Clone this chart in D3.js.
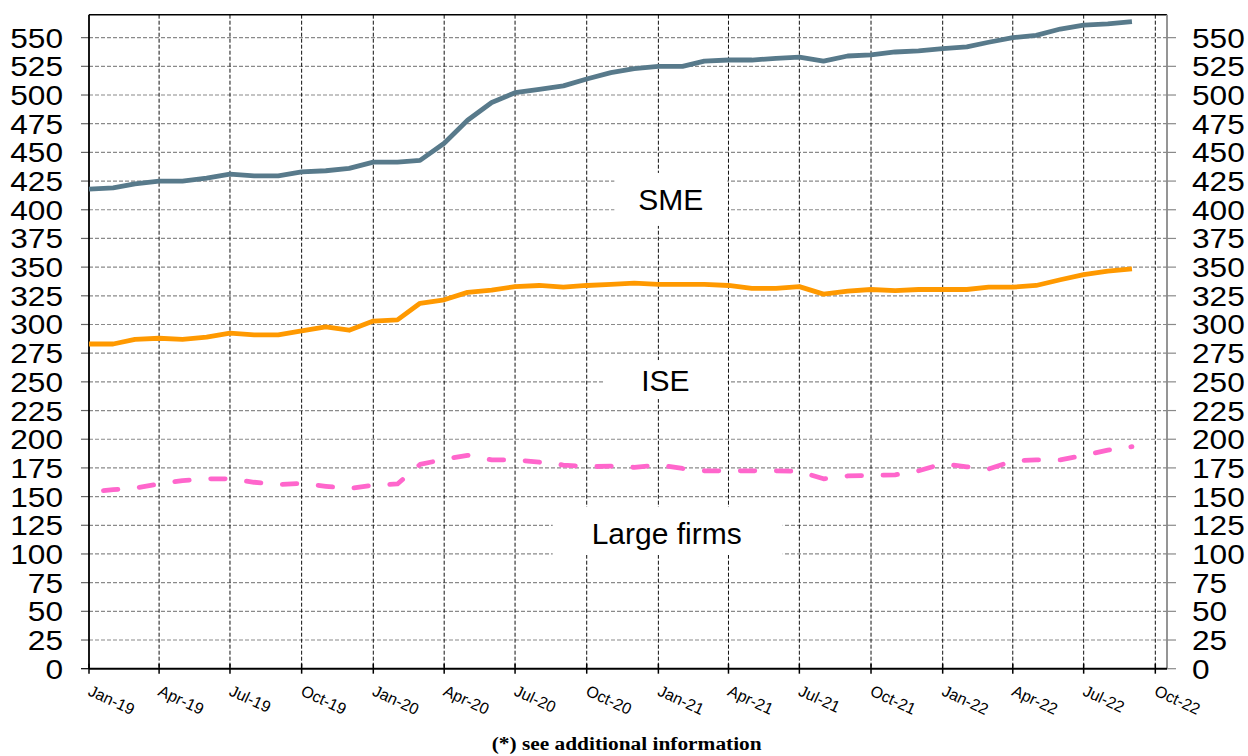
<!DOCTYPE html>
<html><head><meta charset="utf-8">
<script src="https://cdn.jsdelivr.net/npm/d3@7"></script>
<style>body{margin:0;background:#fff} svg{display:block}</style>
</head><body><svg id="c" width="1248" height="756"></svg>
<script>
// ---- data ----
const months = ["2019-01","2019-02","2019-03","2019-04","2019-05","2019-06","2019-07","2019-08","2019-09","2019-10","2019-11","2019-12",
"2020-01","2020-02","2020-03","2020-04","2020-05","2020-06","2020-07","2020-08","2020-09","2020-10","2020-11","2020-12",
"2021-01","2021-02","2021-03","2021-04","2021-05","2021-06","2021-07","2021-08","2021-09","2021-10","2021-11","2021-12",
"2022-01","2022-02","2022-03","2022-04","2022-05","2022-06","2022-07","2022-08","2022-09"];
const sme = [418,419,422.5,425,425,427.5,431,429.5,429.5,433,434,436,
441.5,441.5,443,458,478,493.5,502,505,508,514,519.5,523,
525,525,529.5,530.5,530.5,532,533,529.5,534,535,537.5,538.5,
540.5,542,546,550,552,557.5,561,562,564];
const ise = [283,283,287,288,287,289,292.5,291,291,294.5,298,295,
303,304,318.5,321.5,328,330,333,334,332.5,334,335,336,
335,335,335,334,331.5,331.5,333,326.5,329,330.5,329.5,330.5,
330.5,330.5,332.5,332.5,334,339,343.5,346.5,348.5];
const large = [154,156,157.5,161,164,165.5,165.5,162.5,160.5,161.5,159,157,
160,161,178,182.5,186,182,182,180,177.5,176,176.5,175.5,
177.5,174.5,172.5,172.5,172.5,172.5,172,165.5,168,168.5,169,172.5,
178.5,176,174,181,182,182,186,190.5,193.5];
const xTickDates = ["2019-01","2019-04","2019-07","2019-10","2020-01","2020-04","2020-07","2020-10",
"2021-01","2021-04","2021-07","2021-10","2022-01","2022-04","2022-07","2022-10"];
const xTickLabels = ["Jan-19","Apr-19","Jul-19","Oct-19","Jan-20","Apr-20","Jul-20","Oct-20",
"Jan-21","Apr-21","Jul-21","Oct-21","Jan-22","Apr-22","Jul-22","Oct-22"];
const yTicks = [0,25,50,75,100,125,150,175,200,225,250,275,300,325,350,375,400,425,450,475,500,525,550];
const seriesNames = ["SME","ISE","Large firms"];
const footnote = "(*) see additional information";

// ---- layout ----
const parse = d3.timeParse("%Y-%m");
const svg = d3.select("#c");
const L = 89, R = 1167, T = 14.7, B = 668.7;
const x = d3.scaleTime().domain([new Date(2019,0,1), new Date(2022,9,16)]).range([L, R]);
const y = d3.scaleLinear().domain([0, 570]).range([B, T]);
const font = "'Liberation Sans', Arial, sans-serif";

// horizontal grid (dashed gray) with outward ticks
const g = svg.append("g");
g.selectAll("line.hg").data(yTicks.filter(v => v > 0)).join("line")
  .attr("x1", L).attr("x2", R).attr("y1", d => y(d)).attr("y2", d => y(d))
  .attr("stroke", "#8a8a8a").attr("stroke-width", 1.2).attr("stroke-dasharray", "4,2");
// tick marks left & right
g.selectAll("line.tl").data(yTicks).join("line")
  .attr("x1", L - 8).attr("x2", L).attr("y1", d => y(d)).attr("y2", d => y(d))
  .attr("stroke", d => d === 0 ? "#000" : "#666").attr("stroke-width", 1.2);
g.selectAll("line.tr").data(yTicks).join("line").attr("class","tr")
  .attr("x1", R).attr("x2", R + 9).attr("y1", d => y(d)).attr("y2", d => y(d))
  .attr("stroke", "#8a8a8a").attr("stroke-width", 1.2);

// vertical grid (dashed black)
g.selectAll("line.vg").data(xTickDates.slice(1)).join("line").attr("class","vg")
  .attr("x1", d => x(parse(d))).attr("x2", d => x(parse(d)))
  .attr("y1", T).attr("y2", B)
  .attr("stroke", "#111").attr("stroke-width", 1).attr("stroke-dasharray", "4,2");

// label boxes (white) + texts
const annots = [
  {name: seriesNames[0], date: "2021-01-17", value: 409, w: 113, h: 53, tx: 0, ty: 11},
  {name: seriesNames[1], date: "2021-01-10", value: 252, w: 124, h: 39, tx: 0, ty: 11},
  {name: seriesNames[2], date: "2021-01-13", value: 120, w: 230, h: 48, tx: -1, ty: 13}
];
const ag = svg.append("g");
ag.selectAll("rect").data(annots).join("rect")
  .attr("x", d => x(new Date(d.date)) - d.w/2).attr("y", d => y(d.value) - d.h/2)
  .attr("width", d => d.w).attr("height", d => d.h).attr("fill", "#fff");

// axes frame
svg.append("line").attr("x1", L).attr("x2", R).attr("y1", T).attr("y2", T).attr("stroke", "#000").attr("stroke-width", 1.5);
svg.append("line").attr("x1", R).attr("x2", R).attr("y1", T).attr("y2", B).attr("stroke", "#8a8a8a").attr("stroke-width", 1.8);
svg.append("line").attr("x1", L).attr("x2", L).attr("y1", T).attr("y2", B).attr("stroke", "#000").attr("stroke-width", 1.8);
svg.append("line").attr("x1", L).attr("x2", R).attr("y1", B).attr("y2", B).attr("stroke", "#000").attr("stroke-width", 2);
// bottom ticks
svg.append("g").selectAll("line").data(xTickDates).join("line")
  .attr("x1", d => x(parse(d))).attr("x2", d => x(parse(d)))
  .attr("y1", B - 5).attr("y2", B + 5).attr("stroke", "#000").attr("stroke-width", 1.5);

// lines
const line = vals => d3.line().x((d, i) => x(parse(months[i]))).y(d => y(d))(vals);
svg.append("path").attr("d", line(sme)).attr("fill", "none").attr("stroke", "#587A8B")
  .attr("stroke-width", 4.8).attr("stroke-linejoin", "round");
svg.append("path").attr("d", line(ise)).attr("fill", "none").attr("stroke", "#FF9900")
  .attr("stroke-width", 4.8).attr("stroke-linejoin", "round");
svg.append("path").attr("d", line(large)).attr("fill", "none").attr("stroke", "#FF66CC")
  .attr("stroke-width", 4.8).attr("stroke-linecap", "round").attr("stroke-linejoin", "round")
  .attr("stroke-dasharray", "14.5,21.5").attr("stroke-dashoffset", 21.5);

// annotation texts
ag.selectAll("text").data(annots).join("text")
  .attr("x", d => x(new Date(d.date)) + d.tx).attr("y", d => y(d.value) + d.ty)
  .attr("text-anchor", "middle").attr("font-family", font).attr("font-size", 30)
  .attr("fill", "#000").text(d => d.name);

// y labels left & right
const yl = svg.append("g").attr("font-family", font).attr("font-size", 28).attr("fill", "#000");
yl.selectAll("text.l").data(yTicks).join("text").attr("class","l")
  .attr("transform", d => `translate(63,${y(d) + 10}) scale(1.13,1)`)
  .attr("text-anchor", "end").text(d => d);
yl.selectAll("text.r").data(yTicks).join("text").attr("class","r")
  .attr("transform", d => `translate(1192,${y(d) + 10}) scale(1.13,1)`)
  .attr("text-anchor", "start").text(d => d);

// x labels
svg.append("g").selectAll("text").data(xTickDates).join("text")
  .attr("transform", d => `translate(${x(parse(d)) - 2},${B + 26}) rotate(25)`)
  .attr("font-family", font).attr("font-size", 16).attr("fill", "#000")
  .text((d, i) => xTickLabels[i]);

// footnote
svg.append("text").attr("x", 626.7).attr("y", 750).attr("text-anchor", "middle")
  .attr("font-family", "'Liberation Serif', 'Times New Roman', serif").attr("font-weight", "bold")
  .attr("font-size", 18).attr("textLength", 270).attr("lengthAdjust", "spacingAndGlyphs")
  .text(footnote);
</script></body></html>
